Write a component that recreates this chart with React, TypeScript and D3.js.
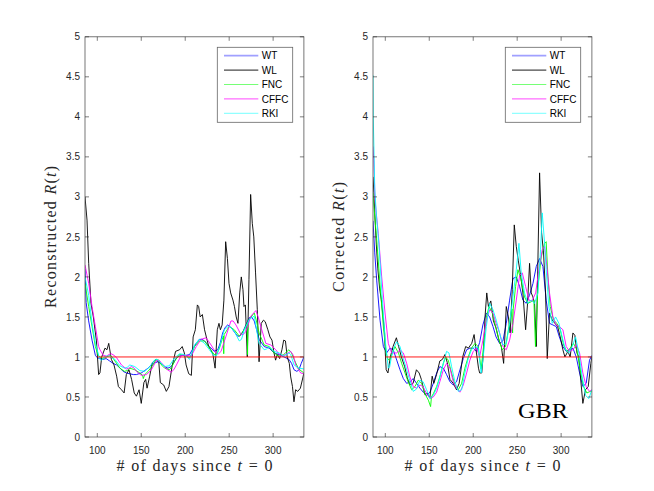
import React from 'react'
import * as d3 from 'd3'

type Pt = [number, number]

// ---- data: [day, R(t)] ----
const seriesNames = ['WT', 'WL', 'FNC', 'CFFC', 'RKI']
const seriesColors = ['#0000ff', '#000000', '#00ff00', '#ff00ff', '#00ffff']
const legendColors = ['#a0a0ff', '#000000', '#66ff66', '#ff33ff', '#66ffff']

const leftWT: Pt[] = [[86,2.1],[87.3,1.68],[90,1.46],[94,1.21],[97.8,1.02],[100,0.99],[103,0.98],[106.8,0.97],[110,0.98],[114,0.95],[118,0.92],[122,0.9],[126,0.86],[129.4,0.82],[133,0.8],[137,0.79],[141,0.78],[144.5,0.78],[150,0.8],[154,0.83],[157.7,0.86],[163.4,0.92],[169,0.94],[172,0.92],[174.7,0.9],[178,0.87],[180.4,0.86],[184,0.88],[187,0.93],[190,0.99],[193,1.01],[197,1.02],[201,1.02],[205,1.03],[208.5,1.1],[212.5,1.17],[216,1.22],[219,1.22],[222,1.2],[227.5,1.13],[233,1.07],[237,1.09],[240,1.18],[242.6,1.3],[245.5,1.37],[248.3,1.4],[251,1.38],[254,1.34],[259.6,1.26],[262,1.26],[265,1.3],[269,1.4],[272.8,1.49],[275.5,1.5],[278.5,1.45],[281,1.35],[284,1.22],[289.8,1.13],[295.5,1.11],[301,1.05],[306.8,1.03],[312.5,1.0],[318,0.97],[321,0.92],[323.8,0.84],[327,0.82],[329.4,0.84],[332,0.92],[335,1.0]]
const leftWL: Pt[] = [[86,3.0],[88.3,2.71],[90.2,2.17],[92.8,1.67],[95.5,1.5],[99,1.2],[101.5,0.78],[103,0.8],[105,1.0],[108.7,1.11],[111,1.09],[113,1.17],[116,0.97],[119,0.9],[122,0.76],[124,0.63],[127.5,0.59],[130.5,0.55],[133,0.78],[136,0.84],[139,0.72],[142,0.55],[144.5,0.51],[147.5,0.59],[150,0.42],[153,0.68],[155,0.72],[156.6,0.61],[159.6,0.76],[162.6,0.93],[167,0.97],[170,0.93],[171.7,0.68],[175.5,0.65],[178.5,0.57],[181.5,0.63],[185,0.88],[189,1.07],[193.6,1.09],[196.6,1.13],[199,1.05],[201,0.9],[204,0.79],[207,0.77],[209,1.25],[211.5,1.34],[213.8,1.65],[215.3,1.63],[217,1.5],[219.5,1.53],[222,1.34],[224,1.25],[226.7,1.13],[229,1.09],[231.6,1.03],[234,0.86],[236.5,1.34],[238.4,1.42],[240,1.34],[242,1.4],[244,1.71],[246,2.44],[248,2.23],[249.8,1.92],[251.7,1.8],[254.3,1.71],[256,1.63],[258,1.5],[260,1.42],[262,1.8],[263.8,2.0],[265.7,1.84],[266.8,1.63],[268.4,1.65],[270.6,1.0],[272.5,1.97],[274.4,3.03],[276.3,2.67],[278,2.5],[280,2.05],[282,1.59],[284,0.94],[286.5,1.42],[289,1.46],[291,1.44],[294,1.34],[296.4,1.25],[298.7,1.21],[301,1.05],[302.8,0.96],[304.7,1.03],[307.4,0.98],[310,1.09],[312,1.21],[314,1.2],[316,1.0],[318.4,0.92],[320,0.75],[322,0.63],[323.7,0.44],[325.6,0.59],[328,0.57],[331,0.61],[334,0.75],[335,0.8]]
const leftFNC: Pt[] = [[86,1.92],[90.2,1.63],[94,1.38],[97.8,1.13],[101,1.02],[103,1.0],[106,0.98],[109,0.99],[114,1.02],[117,1.0],[120,0.95],[125.7,0.86],[131,0.82],[134,0.83],[137,0.86],[142.6,0.84],[148.3,0.8],[151.5,0.77],[152.3,0.73],[154,0.78],[157.7,0.82],[163.4,0.9],[167,0.97],[170,0.96],[173,0.9],[176.6,0.86],[182,0.84],[185,0.88],[188,0.95],[193.6,1.03],[199,1.02],[205,0.99],[207.5,1.04],[210.6,1.13],[216,1.2],[222,1.2],[227.5,1.11],[233,1.03],[236,1.04],[238.9,1.11],[242,1.22],[243.5,1.26],[243.8,1.04],[244.3,1.28],[250,1.38],[255.8,1.34],[261.5,1.26],[267,1.34],[270.5,1.42],[270.9,1.03],[271.4,1.44],[272.8,1.47],[278.5,1.55],[281,1.45],[284,1.3],[289.8,1.15],[295.5,1.13],[301,1.05],[306.8,1.01],[312,1.03],[318,1.09],[321,1.05],[323.8,0.97],[329,0.85],[335,0.8]]
const leftCFFC: Pt[] = [[86,2.15],[90.2,1.92],[94,1.63],[97.8,1.38],[101.6,1.13],[103,1.09],[106.8,1.02],[110.5,1.01],[113,1.03],[116,1.04],[119,1.02],[122,0.99],[127.5,0.9],[133,0.85],[136,0.86],[139,0.88],[142,0.86],[144.5,0.82],[150,0.77],[156,0.78],[161.5,0.84],[167,0.95],[170,0.96],[172.8,0.93],[178.5,0.85],[184,0.81],[187,0.84],[190,0.9],[195.5,1.02],[201,1.02],[206.8,1.01],[212.5,1.13],[218,1.22],[223.8,1.24],[229.4,1.15],[235,1.05],[238,1.04],[240.8,1.07],[246.4,1.26],[252,1.45],[254.5,1.45],[257.7,1.4],[263.4,1.28],[266,1.28],[269,1.32],[274.7,1.51],[280.4,1.58],[283,1.5],[286,1.38],[291.7,1.17],[297.4,1.15],[303,1.09],[308.7,1.01],[314.3,1.03],[320,1.07],[323,1.02],[325.7,0.9],[331.3,0.8],[335,0.79]]
const leftRKI: Pt[] = [[86,2.0],[90.2,1.77],[94,1.42],[97.8,1.17],[101.6,1.02],[103,0.97],[105,0.96],[108.7,1.01],[114,1.01],[120,0.97],[125.7,0.89],[131,0.86],[134,0.87],[137,0.9],[142.6,0.88],[148.3,0.83],[154,0.82],[159.6,0.88],[165,0.96],[168,0.97],[171,0.94],[176.6,0.88],[182,0.89],[188,0.99],[193.6,1.04],[199,1.03],[205,0.97],[207.5,1.05],[210.6,1.15],[216,1.22],[222,1.17],[227.5,1.09],[233,1.01],[236,1.02],[238.9,1.12],[244.5,1.34],[250,1.39],[255.8,1.32],[261.5,1.2],[264,1.22],[267,1.33],[272.8,1.47],[278.5,1.51],[281,1.35],[284,1.17],[289.8,1.09],[292.5,1.1],[295.5,1.13],[301,1.07],[306.8,1.05],[312,1.01],[318,1.05],[320,1.03],[323.8,0.9],[329,0.86],[335,0.85]]

const rightWT: Pt[] = [[86,2.7],[88,2.3],[90.2,1.96],[94,1.46],[97.8,1.13],[101.5,1.05],[105.3,1.11],[109,1.09],[113,0.96],[116.7,0.84],[120.5,0.73],[124.3,0.67],[128,0.69],[131.8,0.73],[135.6,0.67],[139.4,0.61],[143.2,0.56],[147,0.52],[150.8,0.56],[154.6,0.67],[158.4,0.8],[162,0.88],[166,0.86],[169.7,0.78],[173.5,0.69],[177.3,0.65],[181,0.69],[184.9,0.84],[188.7,0.98],[192.5,1.09],[196.2,1.11],[200,1.11],[203.8,1.07],[207.3,1.18],[211,1.4],[215,1.55],[218.7,1.5],[222.5,1.38],[226,1.25],[230,1.17],[233.8,1.2],[237.6,1.42],[241.4,1.71],[245.2,1.98],[249,2.0],[252.8,1.88],[256.5,1.71],[260.3,1.67],[264,1.77],[268,1.92],[271.7,2.13],[275.5,2.23],[279.3,2.13],[283,1.71],[286.8,1.42],[290.6,1.4],[294.4,1.38],[298,1.25],[302,1.13],[305.8,1.07],[309.6,1.09],[313.4,1.11],[317.2,1.0],[321,0.8],[324.7,0.63],[328.5,0.67],[332.3,0.96],[335,1.02]]
const rightWL: Pt[] = [[86,3.25],[87,3.05],[88,2.8],[89.8,2.4],[91.5,2.1],[93.6,1.85],[95.4,1.72],[97.5,1.5],[99.2,1.3],[100,1.05],[101,0.84],[103,0.8],[105.7,1.0],[108.8,1.13],[112.6,1.24],[115.2,1.13],[118.3,1.0],[122,0.88],[125,0.74],[127.8,0.65],[131.6,0.67],[135.4,0.84],[138.5,0.8],[141,0.72],[145,0.53],[147.6,0.55],[150.7,0.49],[153.3,0.76],[155.2,0.67],[158.3,0.78],[162,0.95],[165,0.97],[167.8,1.03],[170.5,0.93],[173.5,0.72],[177.3,0.67],[181,0.59],[184,0.67],[188,1.0],[191.4,1.13],[194.5,1.11],[198.3,1.17],[201,1.28],[203.2,1.09],[206,0.86],[207.3,0.8],[209.7,0.8],[211.6,1.05],[213.5,1.51],[215.4,1.8],[217.3,1.63],[220,1.7],[223,1.45],[226,1.36],[229.3,1.21],[232,1.13],[234.6,0.92],[237.6,1.63],[240,1.5],[242,1.3],[244.4,1.84],[246.7,2.65],[249,2.38],[251.2,2.21],[253.5,2.05],[256.5,1.8],[259.6,1.34],[261.8,1.67],[264.1,2.17],[266,1.8],[267.9,1.75],[269.8,1.67],[271.7,1.13],[273.6,2.21],[275.5,3.3],[277.8,2.55],[280,2.3],[282.3,1.8],[284.2,0.98],[286.8,1.55],[289.9,1.46],[292.9,1.42],[296,1.38],[299,1.25],[302,1.09],[304.3,1.0],[307.7,1.07],[310.3,1.0],[313.4,1.3],[315.6,1.27],[318,1.05],[320.2,1.0],[322,0.75],[324.7,0.42],[327.7,0.59],[330.8,0.63],[333.8,0.92],[335,1.0]]
const rightFNC: Pt[] = [[86,3.05],[88,2.75],[90,2.5],[94,1.9],[98,1.35],[101,1.05],[103,0.97],[105,0.96],[108,1.05],[111,1.13],[115,1.05],[118.6,0.92],[122.4,0.8],[126,0.69],[130,0.59],[133.7,0.63],[137.5,0.71],[141.3,0.67],[145,0.54],[149,0.46],[151.5,0.38],[152.5,0.5],[154.6,0.54],[158.4,0.63],[162,0.75],[166,0.92],[168.6,1.0],[171.6,0.96],[175.4,0.8],[179.2,0.65],[183,0.59],[186.8,0.67],[190.5,0.86],[194.3,1.0],[198,1.11],[202,1.17],[205.7,1.13],[209,0.85],[211,1.05],[215,1.5],[218,1.63],[221.7,1.55],[225.5,1.38],[229.3,1.21],[233,1.09],[236.8,1.13],[240.6,1.38],[244,1.6],[244.8,1.3],[245.5,1.6],[248.2,1.88],[250.9,2.09],[254.6,1.96],[258.4,1.75],[262,1.67],[266,1.69],[269,1.71],[270.8,1.13],[272,1.45],[273.6,1.88],[277.4,2.25],[281.2,2.42],[283,2.44],[285,2.0],[287.6,1.63],[291.4,1.46],[295.2,1.42],[299,1.34],[302.8,1.15],[306.5,1.07],[310.3,1.11],[314,1.17],[317.9,1.09],[321.7,0.84],[325.5,0.63],[329.3,0.55],[333,0.57],[335,0.57]]
const rightCFFC: Pt[] = [[86,3.63],[87,3.45],[88.3,2.96],[92,2.54],[95.9,2.0],[99.7,1.55],[103.4,1.17],[107.2,1.05],[113,1.05],[116.7,1.09],[120.5,1.05],[124.3,0.92],[128,0.75],[131.8,0.63],[135.6,0.61],[139.4,0.65],[143,0.63],[147,0.54],[150.8,0.48],[154.6,0.5],[158.4,0.56],[162,0.69],[166,0.84],[169.7,0.92],[173.5,0.86],[177.3,0.69],[181,0.61],[184.9,0.56],[188.7,0.65],[192.5,0.8],[196.2,0.96],[200,1.07],[203.8,1.11],[207.3,1.0],[211,1.21],[215,1.46],[218.7,1.59],[222.5,1.55],[226,1.42],[230,1.3],[233.8,1.13],[237.6,1.09],[241.4,1.21],[245.2,1.42],[249,1.71],[252.8,2.02],[255.8,2.05],[259.6,1.88],[263.4,1.71],[267,1.7],[271,1.8],[274.7,2.09],[278.5,2.34],[281.2,2.38],[283.8,2.13],[286.8,1.8],[290.6,1.5],[294.4,1.4],[298,1.38],[302,1.34],[305.8,1.13],[309.6,1.07],[313.4,1.09],[317.2,1.15],[321,1.05],[324.7,0.8],[328.5,0.63],[332.3,0.57],[335,0.59]]
const rightRKI: Pt[] = [[86,4.52],[86.3,4.0],[88,3.1],[90,2.75],[92.8,2.4],[96.6,1.72],[100,1.2],[103.4,0.86],[105,0.88],[107,1.0],[110,1.12],[113,1.19],[116.7,1.13],[120.5,0.98],[124.3,0.84],[128,0.7],[131.8,0.57],[135.6,0.6],[139.4,0.71],[143,0.69],[147,0.59],[150.8,0.48],[154.6,0.52],[158.4,0.61],[162,0.75],[166,0.92],[169.7,1.07],[172.4,1.05],[175.4,0.88],[179.2,0.69],[183,0.57],[186.8,0.59],[190.5,0.8],[194.3,0.98],[198,1.09],[202,1.13],[205.7,1.11],[209,0.8],[211,0.96],[214.9,1.38],[218.7,1.67],[222.5,1.59],[226.2,1.46],[230,1.3],[233.8,1.15],[237.6,1.17],[241.4,1.42],[245.2,1.75],[249,2.09],[252,2.42],[254.6,2.05],[258.4,1.8],[262.2,1.67],[266,1.71],[269.8,1.67],[273.6,1.8],[276.6,2.34],[278.5,2.8],[281.2,2.42],[283,2.09],[286,1.63],[289.9,1.42],[293.7,1.5],[297.5,1.42],[301.2,1.25],[305,1.09],[308.8,1.05],[312.6,1.13],[316.4,1.25],[320.2,1.05],[324,0.75],[327.8,0.52],[331.5,0.48],[335,0.59]]

const thresholdLine: Pt[] = [[100, 1], [340, 1]]
const xTicks = [100, 150, 200, 250, 300]
const yTicks = [0, 0.5, 1, 1.5, 2, 2.5, 3, 3.5, 4, 4.5, 5]
const xDomain: [number, number] = [86, 335]
const yDomain: [number, number] = [0, 5]

const W = 654
const H = 491
const TOP = 36.8
const BOTTOM = 437
const AXIS_COLOR = '#262626'
const SANS = '"Liberation Sans", Arial, Helvetica, sans-serif'
const SERIF = '"Liberation Serif", "Times New Roman", serif'

const Panel = ({ id, x0, x1, series, yLabel, yLabelX, yLabelLen, note }: any) => {
  const x = d3.scaleLinear().domain(xDomain).range([x0, x1])
  const y = d3.scaleLinear().domain(yDomain).range([BOTTOM, TOP])
  const line = d3.line<Pt>().x(d => x(d[0])).y(d => y(d[1]))
  const tick = 4
  const lgX0 = x1 - 86.6
  const lgX1 = x1 - 11.2
  const lgY0 = 47.3
  const lgY1 = 122.3

  return (
    <g>
      <defs>
        <clipPath id={id}>
          <rect x={x0} y={TOP} width={x1 - x0} height={BOTTOM - TOP} />
        </clipPath>
      </defs>
      <rect x={x0} y={TOP} width={x1 - x0} height={BOTTOM - TOP} fill="#fff" />

      <g clipPath={`url(#${id})`} fill="none" strokeWidth={0.9} strokeLinejoin="round">
        {series.map((s: Pt[], i: number) => (
          <path key={i} d={line(s) || ''} stroke={seriesColors[i]} />
        ))}
        <path d={line(thresholdLine) || ''} stroke="#ff0000" />
      </g>

      {/* box and ticks */}
      <rect x={x0} y={TOP} width={x1 - x0} height={BOTTOM - TOP} fill="none" stroke="#555" strokeWidth={0.8} />
      {xTicks.map(t => (
        <g key={'x' + t} stroke={AXIS_COLOR} strokeWidth={0.6}>
          <line x1={x(t)} x2={x(t)} y1={BOTTOM} y2={BOTTOM - tick} />
          <line x1={x(t)} x2={x(t)} y1={TOP} y2={TOP + tick} />
        </g>
      ))}
      {yTicks.map(t => (
        <g key={'y' + t} stroke={AXIS_COLOR} strokeWidth={0.6}>
          <line x1={x0} x2={x0 + tick} y1={y(t)} y2={y(t)} />
          <line x1={x1} x2={x1 - tick} y1={y(t)} y2={y(t)} />
        </g>
      ))}
      {xTicks.map(t => (
        <text key={'xl' + t} x={x(t)} y={454} fontSize={10} fontFamily={SANS} fill={AXIS_COLOR} textAnchor="middle">{t}</text>
      ))}
      {yTicks.map(t => (
        <text key={'yl' + t} x={x0 - 5} y={y(t) + 3.6} fontSize={10} fontFamily={SANS} fill={AXIS_COLOR} textAnchor="end">{String(t)}</text>
      ))}

      {/* axis labels */}
      <text x={(x0 + x1) / 2} y={471} fontSize={16} fontFamily={SERIF} fill={AXIS_COLOR} textAnchor="middle"
        textLength={156} lengthAdjust="spacing">
        # of days since <tspan fontStyle="italic">t</tspan> = 0
      </text>
      <text transform={`translate(${yLabelX},${(TOP + BOTTOM) / 2}) rotate(-90)`} fontSize={16} fontFamily={SERIF}
        fill={AXIS_COLOR} textAnchor="middle" textLength={yLabelLen} lengthAdjust="spacing">
        {yLabel} <tspan fontStyle="italic">R</tspan>(<tspan fontStyle="italic">t</tspan>)
      </text>

      {/* legend */}
      <rect x={lgX0} y={lgY0} width={lgX1 - lgX0} height={lgY1 - lgY0} fill="#fff" stroke="#666" strokeWidth={0.8} />
      {seriesNames.map((n, i) => {
        const ly = 55.7 + i * 14.4
        return (
          <g key={n}>
            <line x1={lgX0 + 6.7} x2={lgX0 + 41} y1={ly} y2={ly} stroke={legendColors[i]} strokeWidth={i === 0 ? 1.8 : 0.9} />
            <text x={lgX0 + 44.4} y={ly + 3.6} fontSize={10} fontFamily={SANS} fill="#000">{n}</text>
          </g>
        )
      })}

      {note && (
        <text x={518} y={418} fontSize={22} fontFamily={SERIF} fill="#000" textLength={50} lengthAdjust="spacingAndGlyphs">{note}</text>
      )}
    </g>
  )
}

export default function App() {
  return (
    <svg width={W} height={H} viewBox={`0 0 ${W} ${H}`}
      style={{ position: 'absolute', left: 0, top: 0, background: '#fff' }}>
      <rect width={W} height={H} fill="#fff" />
      <Panel id="clipL" x0={85.0} x1={303.9} series={[leftWT, leftWL, leftFNC, leftCFFC, leftRKI]}
        yLabel="Reconstructed" yLabelX={56} yLabelLen={142} />
      <Panel id="clipR" x0={373.0} x1={591.9} series={[rightWT, rightWL, rightFNC, rightCFFC, rightRKI]}
        yLabel="Corrected" yLabelX={344} yLabelLen={110} note="GBR" />
    </svg>
  )
}
